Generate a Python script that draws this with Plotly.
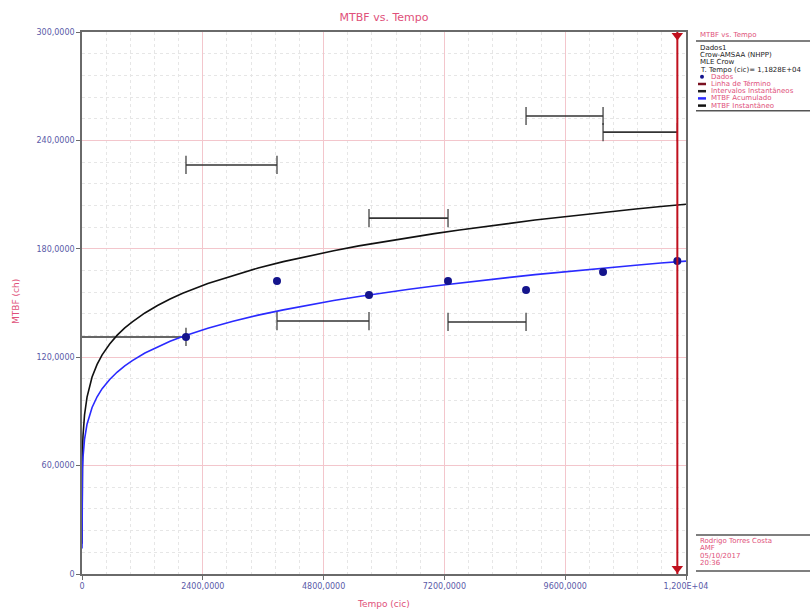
import plotly.graph_objects as go

# ---------------- data ----------------
fail_times = [2066, 3874, 5702, 7272, 8822, 10352, 11828]
cum_mtbf_pts = [131.2, 162.2, 154.4, 162.2, 157.2, 167.2, 173.2]

interval_start = [0, 2066, 3874, 5702, 7272, 8822, 10352]
interval_end = [2066, 3874, 5702, 7272, 8822, 10352, 11828]
interval_mtbf = [131.2, 226.4, 140.0, 197.0, 139.5, 253.5, 244.6]

curve_t = [0.001, 0.01, 0.1, 0.5, 1, 2, 5, 10, 20, 30, 50, 100, 150, 200, 300, 400,
           550, 700, 850, 1000, 1250, 1500, 1750, 2000, 2500, 3000, 3500, 4000, 4500,
           5000, 5500, 6000, 6500, 7000, 7500, 8000, 8500, 9000, 9500, 10000, 10500,
           11000, 11500, 12000]
cum_curve = [14.1, 20.1, 28.6, 36.6, 40.8, 45.4, 52.2, 58.1, 64.7, 68.8, 74.5, 82.9,
             88.2, 92.2, 98.1, 102.6, 107.7, 111.8, 115.2, 118.1, 122.3, 125.7, 128.8,
             131.4, 136.0, 139.9, 143.3, 146.2, 148.9, 151.4, 153.6, 155.7, 157.6,
             159.4, 161.1, 162.7, 164.2, 165.7, 167.1, 168.4, 169.7, 170.9, 172.1, 173.2]
inst_curve = [16.7, 23.7, 33.8, 43.3, 48.2, 53.6, 61.7, 68.7, 76.5, 81.4, 88.0, 97.9,
              104.3, 109.0, 116.0, 121.3, 127.3, 132.2, 136.2, 139.6, 144.5, 148.6,
              152.2, 155.4, 160.8, 165.3, 169.4, 172.9, 176.0, 178.9, 181.6, 184.0,
              186.3, 188.4, 190.4, 192.3, 194.1, 195.9, 197.5, 199.1, 200.6, 202.0,
              203.4, 204.7]

term_time = 11828
y_range = [0, 300]
x_range = [0, 12000]

x_tickvals = [0, 2400, 4800, 7200, 9600, 12000]
x_ticktext = ["0", "2400,0000", "4800,0000", "7200,0000", "9600,0000", "1,200E+04"]
y_tickvals = [0, 60, 120, 180, 240, 300]
y_ticktext = ["0", "60,0000", "120,0000", "180,0000", "240,0000", "300,0000"]

legend_header = ["Dados1", "Crow-AMSAA (NHPP)", "MLE Crow", "T. Tempo (cic)= 1,1828E+04"]
legend_items = ["Dados", "Linha de Término", "Intervalos Instantâneos",
                "MTBF Acumulado", "MTBF Instantâneo"]
footer_lines = ["Rodrigo Torres Costa", "AMF", "05/10/2017", "20:36"]

# ---------------- styles ----------------
PINK = "#e0507a"
TICK = "#5a5aa8"
NAVY = "#14148c"
BLUE = "#2a2aff"
DARKRED = "#c0101e"
BAR = "#333333"
FONT = "DejaVu Sans"

W, H = 810, 612
L, R, T, B = 82, 686, 32, 574


def px(X):
    return (X - L) / (R - L)


def py(Y):
    return (B - Y) / (B - T)


fig = go.Figure()

# interval segments
for xs, xe, ym in zip(interval_start, interval_end, interval_mtbf):
    fig.add_trace(go.Scatter(x=[xs, xe], y=[ym, ym], mode="lines",
                             line=dict(color=BAR, width=1.6),
                             showlegend=False, hoverinfo="skip"))
    ends = [xs, xe] if xs > 0 else [xe]
    fig.add_trace(go.Scatter(x=ends, y=[ym] * len(ends), mode="markers",
                             marker=dict(symbol="line-ns-open", size=13, color=BAR,
                                         line=dict(color=BAR, width=1.2)),
                             showlegend=False, hoverinfo="skip"))

# cumulative & instantaneous curves
fig.add_trace(go.Scatter(x=curve_t, y=inst_curve, mode="lines",
                         line=dict(color="#111111", width=1.6), showlegend=False))
fig.add_trace(go.Scatter(x=curve_t, y=cum_curve, mode="lines",
                         line=dict(color=BLUE, width=1.6), showlegend=False))

# data points
fig.add_trace(go.Scatter(x=fail_times, y=cum_mtbf_pts, mode="markers",
                         marker=dict(color=NAVY, size=8), showlegend=False))

# termination line
fig.add_trace(go.Scatter(x=[term_time, term_time], y=y_range, mode="lines",
                         line=dict(color=DARKRED, width=2), showlegend=False,
                         cliponaxis=False))
fig.add_trace(go.Scatter(x=[term_time, term_time], y=[y_range[1] - 2, y_range[0] + 3],
                         mode="markers",
                         marker=dict(symbol="triangle-down", size=10, color=DARKRED),
                         showlegend=False, cliponaxis=False))

# ---------------- layout ----------------
annotations = []
shapes = []

# axis titles
annotations.append(dict(text="Tempo (cic)", x=px(383), y=py(604), xref="paper", yref="paper",
                        xanchor="center", yanchor="middle", showarrow=False,
                        font=dict(size=9, color=PINK, family=FONT)))
annotations.append(dict(text="MTBF (ch)", x=px(16), y=py(302), xref="paper", yref="paper",
                        xanchor="center", yanchor="middle", showarrow=False, textangle=-90,
                        font=dict(size=9, color=PINK, family=FONT)))

# legend box (top right)
annotations.append(dict(text="MTBF vs. Tempo", x=px(698), y=py(35), xref="paper", yref="paper",
                        xanchor="left", yanchor="middle", showarrow=False,
                        font=dict(size=7, color=PINK, family=FONT)))
shapes.append(dict(type="line", xref="paper", yref="paper", x0=px(696), x1=px(812),
                   y0=py(41), y1=py(41), line=dict(color="#555555", width=1.5)))
yy = 48
for t in legend_header:
    annotations.append(dict(text=t, x=px(698), y=py(yy), xref="paper", yref="paper",
                            xanchor="left", yanchor="middle", showarrow=False,
                            font=dict(size=7, color="#222222", family=FONT)))
    yy += 7.2
for i, t in enumerate(legend_items):
    annotations.append(dict(text=t, x=px(709), y=py(yy), xref="paper", yref="paper",
                            xanchor="left", yanchor="middle", showarrow=False,
                            font=dict(size=7, color=PINK, family=FONT)))
    if i == 0:
        shapes.append(dict(type="circle", xref="paper", yref="paper",
                           x0=px(700), x1=px(704), y0=py(yy + 2), y1=py(yy - 2),
                           fillcolor=NAVY, line=dict(color=NAVY, width=0)))
    else:
        col = [None, "#7a1020", "#222222", BLUE, "#111111"][i]
        shapes.append(dict(type="line", xref="paper", yref="paper",
                           x0=px(698), x1=px(706), y0=py(yy), y1=py(yy),
                           line=dict(color=col, width=2.5)))
    yy += 7.2
shapes.append(dict(type="line", xref="paper", yref="paper", x0=px(696), x1=px(812),
                   y0=py(yy - 2), y1=py(yy - 2), line=dict(color="#555555", width=1.5)))

# footer box (bottom right)
shapes.append(dict(type="line", xref="paper", yref="paper", x0=px(696), x1=px(812),
                   y0=py(535), y1=py(535), line=dict(color="#555555", width=1.5)))
yy = 541
for t in footer_lines:
    annotations.append(dict(text=t, x=px(698), y=py(yy), xref="paper", yref="paper",
                            xanchor="left", yanchor="middle", showarrow=False,
                            font=dict(size=7, color=PINK, family=FONT)))
    yy += 7.3
shapes.append(dict(type="line", xref="paper", yref="paper", x0=px(696), x1=px(812),
                   y0=py(571), y1=py(571), line=dict(color="#555555", width=1.5)))

fig.update_layout(
    width=W, height=H,
    margin=dict(l=L, r=W - R, t=T, b=H - B),
    paper_bgcolor="white", plot_bgcolor="white",
    font=dict(family=FONT),
    title=dict(text="MTBF vs. Tempo", x=(L + R) / 2 / W, xanchor="center",
               y=1 - 17 / H, yanchor="middle",
               font=dict(size=11, color=PINK, family=FONT)),
    annotations=annotations,
    shapes=shapes,
    showlegend=False,
)

fig.update_xaxes(
    range=x_range, tickvals=x_tickvals, ticktext=x_ticktext,
    showgrid=True, gridcolor="#f3c6cc", gridwidth=1,
    minor=dict(dtick=480, showgrid=True, gridcolor="#e6e6e6", griddash="dot",
               ticks=""),
    showline=True, linecolor="#6a6a6a", linewidth=1.5, mirror=True,
    ticks="outside", ticklen=4, tickcolor="#6a6a6a",
    tickfont=dict(size=8, color=TICK, family=FONT),
    zeroline=False, automargin=False,
)
fig.update_yaxes(
    range=y_range, tickvals=y_tickvals, ticktext=y_ticktext,
    showgrid=True, gridcolor="#f3c6cc", gridwidth=1,
    minor=dict(dtick=12, showgrid=True, gridcolor="#e6e6e6", griddash="dot",
               ticks=""),
    showline=True, linecolor="#6a6a6a", linewidth=1.5, mirror=True,
    ticks="outside", ticklen=4, tickcolor="#6a6a6a",
    tickfont=dict(size=8, color=TICK, family=FONT),
    zeroline=False, automargin=False,
)

fig.write_html("out.html")
